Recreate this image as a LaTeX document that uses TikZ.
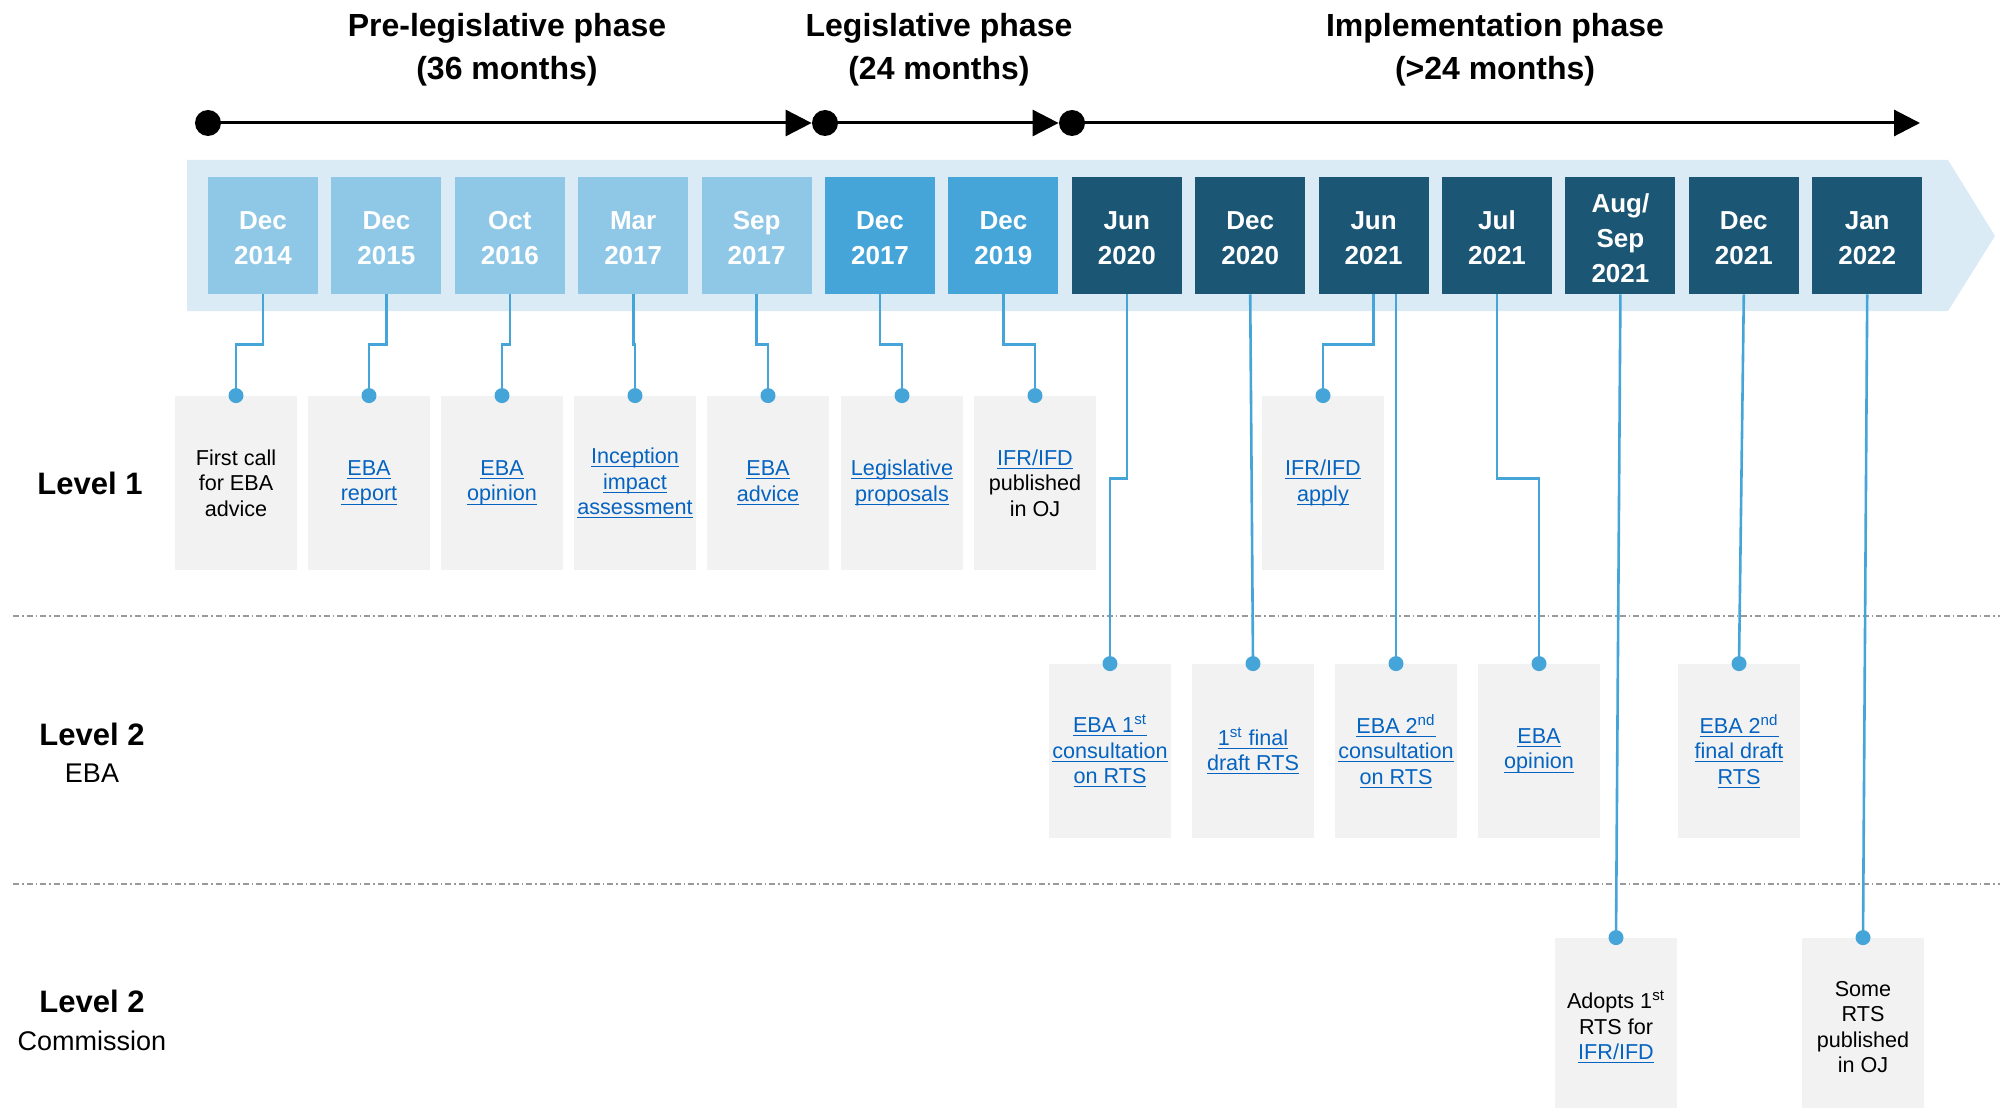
\documentclass[tikz,border=0pt]{standalone}
\usepackage{fontspec}
\setmainfont{Liberation Sans}
\usetikzlibrary{arrows.meta}

\definecolor{bandblue}{HTML}{DAEBF5}
\definecolor{paleblue}{HTML}{8FC8E7}
\definecolor{midblue}{HTML}{45A5D8}
\definecolor{darkblue}{HTML}{1B5675}
\definecolor{pinblue}{HTML}{45A5D8}
\definecolor{linkblue}{HTML}{0563C1}
\definecolor{boxgrey}{HTML}{F2F2F2}
\definecolor{sepgrey}{HTML}{9A9A9A}

% underlined link text
\newcommand\lnk[1]{\textcolor{linkblue}{\setbox0\hbox{#1}\rlap{\vrule height -1.3pt depth 1.8pt width \wd0}\box0}}

\begin{document}
\begin{tikzpicture}
    [%%%%%%%%%%%%%%%%%%%%%%%%%%%%%%
        x=0.5pt,y=-0.5pt,
        datebox/.style={rectangle,minimum width=55pt,minimum height=58.5pt,inner sep=0pt},
        datetext/.style={inner sep=0pt,text=white,font=\fontsize{13}{17.5}\selectfont\bfseries,align=center},
        eventbox/.style={rectangle,fill=boxgrey,minimum width=61pt,minimum height=87pt,inner sep=0pt,font=\fontsize{10.8}{12.8}\selectfont,align=center},
        phase/.style={font=\fontsize{16}{21.5}\selectfont\bfseries,align=center},
        levelname/.style={font=\fontsize{15.5}{18}\selectfont\bfseries},
        levelsub/.style={font=\fontsize{13.5}{16}\selectfont},
        tdot/.style={circle,fill=black,inner sep=0pt,minimum size=13pt},
        timeline/.style={line width=1.5pt,-{Triangle[length=13pt,width=13pt]}},
        link/.style={draw=pinblue,line width=1.3pt},
        pin/.style={circle,fill=pinblue,inner sep=0pt,minimum size=7.5pt},
        sep/.style={draw=sepgrey,line width=0.8pt,dash pattern=on 3pt off 1.5pt on 0.75pt off 1.5pt}
    ]%%%%%%%%%%%%%%%%%%%%%%%%%%%%%%

\useasboundingbox (0,0) rectangle (2000,1107);

% phases
\node[phase] (ph1) at (507,50) {Pre-legislative phase\\(36 months)};
\node[phase] (ph2) at (939,50) {Legislative phase\\(24 months)};
\node[phase] (ph3) at (1495,50) {Implementation phase\\(>24 months)};

\node[tdot] (s0) at (208,123) {};
\node[tdot] (s1) at (825,123) {};
\node[tdot] (s2) at (1072,123) {};
\coordinate (tend) at (1920,123);
\draw[timeline] (s0.center) -- (s1.west);
\draw[timeline] (s1.center) -- (s2.west);
\draw[timeline] (s2.center) -- (tend);

% date band
\fill[bandblue] (187,160) -- (1948,160) -- (1995,236) -- (1948,311) -- (187,311) -- cycle;

\foreach \txt/\c [count=\i] in {{Dec\\2014}/paleblue,{Dec\\2015}/paleblue,{Oct\\2016}/paleblue,
    {Mar\\2017}/paleblue,{Sep\\2017}/paleblue,{Dec\\2017}/midblue,{Dec\\2019}/midblue,
    {Jun\\2020}/darkblue,{Dec\\2020}/darkblue,{Jun\\2021}/darkblue,{Jul\\2021}/darkblue,
    {Aug/\\Sep\\2021}/darkblue,{Dec\\2021}/darkblue,{Jan\\2022}/darkblue}{
    \node[datebox,fill=\c] (d\i) at ({263+123.4*(\i-1)},235.5) {};
    \node[datetext] (dt\i) at ([yshift=-1.2pt]d\i.center) {\txt};
}

% separators
\draw[sep] (13,616) -- (2000,616);
\draw[sep] (13,884) -- (2000,884);

% levels
\node[levelname] (lv1) at (90,483) {Level 1};
\node[levelname] (lv2) at (92,734) {Level 2};
\node[levelsub] (lv2s) at (92,773) {EBA};
\node[levelname] (lv3) at (92,1001) {Level 2};
\node[levelsub] (lv3s) at (92,1041) {Commission};

% level 1
\node[eventbox] (e1) at (236,483) {First call\\for EBA\\advice};
\node[eventbox] (e2) at (369,483) {\lnk{EBA}\\\lnk{report}};
\node[eventbox] (e3) at (502,483) {\lnk{EBA}\\\lnk{opinion}};
\node[eventbox] (e4) at (635,483) {\lnk{Inception}\\\lnk{impact}\\\lnk{assessment}};
\node[eventbox] (e5) at (768,483) {\lnk{EBA}\\\lnk{advice}};
\node[eventbox] (e6) at (902,483) {\lnk{Legislative}\\\lnk{proposals}};
\node[eventbox] (e7) at (1035,483) {\lnk{IFR/IFD}\\published\\in OJ};
\node[eventbox] (e8) at (1323,483) {\lnk{IFR/IFD}\\\lnk{apply}};

% level 2 EBA
\node[eventbox] (f1) at (1110,751) {\lnk{EBA 1\textsuperscript{st}}\\\lnk{consultation}\\\lnk{on RTS}};
\node[eventbox] (f2) at (1253,751) {\lnk{1\textsuperscript{st} final}\\\lnk{draft RTS}};
\node[eventbox] (f3) at (1396,751) {\lnk{EBA 2\textsuperscript{nd}}\\\lnk{consultation}\\\lnk{on RTS}};
\node[eventbox] (f4) at (1539,751) {\lnk{EBA}\\\lnk{opinion}};
\node[eventbox] (f5) at (1739,751) {\lnk{EBA 2\textsuperscript{nd}}\\\lnk{final draft}\\\lnk{RTS}};

% level 2 Commission
\node[eventbox,minimum height=89pt] (g1) at (1616,1027) {Adopts 1\textsuperscript{st}\\RTS for\\\lnk{IFR/IFD}};
\node[eventbox,minimum height=89pt] (g2) at (1863,1027) {Some\\RTS\\published\\in OJ};

% connectors
\foreach \a/\b in {d1/e1,d2/e2,d3/e3,d4/e4,d5/e5,d6/e6,d7/e7,d10/e8}
    \draw[link] (\a.south) -- ++(0,50) -| (\b.north);
\foreach \a/\b in {d8/f1,d11/f4}
    \draw[link] (\a.south) -- ++(0,184) -| (\b.north);
\draw[link] (f3.north |- d10.south) -- (f3.north);
\foreach \a/\b in {d9/f2,d13/f5,d12/g1,d14/g2}
    \draw[link] (\a.south) -- (\b.north);

\foreach \b in {e1,e2,e3,e4,e5,e6,e7,e8,f1,f2,f3,f4,f5,g1,g2}
    \node[pin] (p\b) at (\b.north) {};

\end{tikzpicture}
\end{document}
